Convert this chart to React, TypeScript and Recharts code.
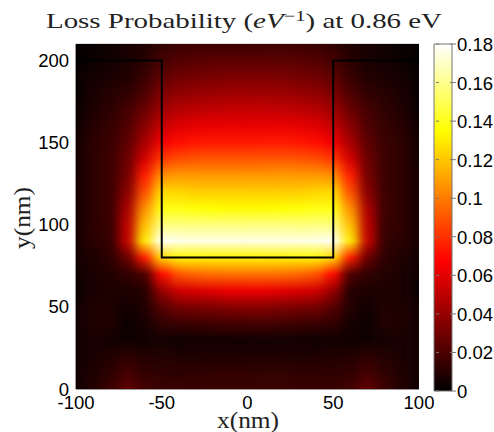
import React from 'react';
import { Bar, BarChart, ReferenceLine, Scatter, ScatterChart, XAxis, YAxis } from 'recharts';

// grid positions in nm, values below are in units of 0.001 eV^-1
const xGrid = [-100, -90, -80, -70, -60, -50, -40, -30, -20, -10, 0, 10, 20, 30, 40, 50, 60, 70, 80, 90, 100];
const yGrid = [210, 200, 190, 180, 170, 160, 150, 140, 130, 120, 110, 100, 90, 80, 70, 60, 50, 40, 30, 20, 10, 0];
const lossRows = [
  [1, 2, 4, 6, 8, 13, 15, 16, 16, 16, 16, 16, 16, 16, 15, 13, 8, 6, 4, 2, 1],
  [1, 3, 5, 7, 11, 18, 22, 23, 24, 24, 24, 24, 24, 23, 22, 18, 11, 7, 5, 3, 1],
  [2, 5, 7, 9, 15, 25, 29, 31, 32, 33, 33, 33, 32, 31, 29, 25, 15, 9, 7, 5, 2],
  [2, 7, 10, 13, 20, 33, 38, 40, 41, 42, 42, 42, 41, 40, 38, 33, 20, 13, 10, 7, 2],
  [3, 8, 12, 18, 28, 42, 48, 50, 51, 52, 52, 52, 51, 50, 48, 42, 28, 18, 12, 8, 3],
  [4, 10, 14, 21, 36, 52, 59, 61, 62, 62, 62, 62, 62, 61, 59, 52, 36, 21, 14, 10, 4],
  [5, 12, 15, 25, 44, 64, 71, 73, 74, 74, 74, 74, 74, 73, 71, 64, 44, 25, 15, 12, 5],
  [5, 12, 16, 28, 56, 82, 88, 90, 90, 90, 90, 90, 90, 90, 88, 82, 56, 28, 16, 12, 5],
  [6, 12, 16, 31, 75, 105, 108, 108, 108, 108, 108, 108, 108, 108, 108, 105, 75, 31, 16, 12, 6],
  [6, 12, 16, 36, 88, 125, 124, 122, 122, 122, 122, 122, 122, 122, 124, 125, 88, 36, 16, 12, 6],
  [6, 12, 16, 45, 105, 138, 138, 136, 135, 134, 134, 134, 135, 136, 138, 138, 105, 45, 16, 12, 6],
  [6, 12, 15, 50, 118, 157, 157, 157, 157, 157, 157, 157, 157, 157, 157, 157, 118, 50, 15, 12, 6],
  [6, 11, 14, 52, 130, 178, 176, 175, 175, 175, 175, 175, 175, 175, 176, 178, 130, 52, 14, 11, 6],
  [5, 8, 12, 28, 75, 125, 133, 133, 132, 132, 132, 132, 132, 133, 133, 125, 75, 28, 12, 8, 5],
  [4, 7, 9, 13, 20, 70, 90, 95, 97, 98, 98, 98, 97, 95, 90, 70, 20, 13, 9, 7, 4],
  [3, 7, 8, 8, 10, 40, 55, 58, 60, 63, 63, 63, 60, 58, 55, 40, 10, 8, 8, 7, 3],
  [5, 8, 8, 5, 9, 23, 31, 33, 34, 36, 36, 36, 34, 33, 31, 23, 9, 5, 8, 8, 5],
  [5, 8, 9, 3, 6, 13, 15, 16, 17, 18, 18, 18, 17, 16, 15, 13, 6, 3, 9, 8, 5],
  [5, 7, 5, 4, 4, 5, 4, 5, 5, 5, 5, 5, 5, 5, 4, 5, 4, 4, 5, 7, 5],
  [5, 7, 9, 12, 9, 9, 8, 8, 8, 8, 8, 8, 8, 8, 8, 9, 9, 12, 9, 7, 5],
  [5, 8, 12, 18, 13, 12, 12, 12, 13, 13, 13, 13, 13, 12, 12, 12, 13, 18, 12, 8, 5],
  [4, 9, 16, 26, 18, 15, 15, 15, 16, 16, 16, 16, 16, 15, 15, 15, 18, 26, 16, 9, 4],
];

// the U shaped outline
const outlineX = [-100, -50, -50, 50, 50, 100];
const outlineY = [200, 200, 80, 80, 200, 200];

const xTicks = [-100, -50, 0, 50, 100];
const yTicks = [0, 50, 100, 150, 200];
const barTicks = [0, 0.02, 0.04, 0.06, 0.08, 0.1, 0.12, 0.14, 0.16, 0.18];
const barMax = [0.18];

const Y_MAX = yGrid[0];
// one strip per x position, it holds the values of that column from top to bottom
const strips = xGrid.map((x, c) => ({ x, y: Y_MAX / 2, col: c, losses: lossRows.map(row => row[c] / 1000) }));
const outline = outlineX.map((x, i) => ({ x, y: outlineY[i] }));
const barData = barMax.map(v => ({ name: 'scale', v }));

const W = 494;
const H = 432;
const LEFT = 76;
const RIGHT = 419;
const TOP = 44;
const BOTTOM = 389;
const cellW = (RIGHT - LEFT) / (xGrid.length - 1);
const plotH = BOTTOM - TOP;

const tickFont = { fontFamily: '"Liberation Sans", Arial, sans-serif', fontSize: 18.5, fill: '#000' };
const serif = '"Liberation Serif", "DejaVu Serif", serif';

// matlab hot colormap on 0..0.18
const hot = (v: number) => {
  const t = Math.min(Math.max(v / 0.18, 0), 1);
  const r = Math.min(t / 0.375, 1);
  const g = Math.min(Math.max((t - 0.375) / 0.375, 0), 1);
  const b = Math.max((t - 0.75) / 0.25, 0);
  return `rgb(${Math.round(r * 255)},${Math.round(g * 255)},${Math.round(b * 255)})`;
};

const HeatStrip = (props: any) => {
  const { cx, cy, payload } = props;
  // edge strips run past the plot so the blur does not fade out, the clip trims them
  const padL = payload.col === 0 ? 20 : 0;
  const padR = payload.col === xGrid.length - 1 ? 20 : 0;
  return (
    <rect
      x={cx - cellW / 2 - padL}
      y={cy - plotH / 2}
      width={cellW + padL + padR + 0.5}
      height={plotH}
      fill={`url(#strip${payload.col})`}
    />
  );
};

const BarTick = (props: any) => {
  const { x, y, payload } = props;
  return (
    <g>
      <line x1={x - 24} x2={x - 21} y1={y} y2={y} stroke="#777" />
      <line x1={x - 10} x2={x - 4} y1={y} y2={y} stroke="#777" />
      <text x={x - 3} y={y + 7} {...tickFont}>{payload.value}</text>
    </g>
  );
};

export default function App() {
  return (
    <div style={{ position: 'absolute', left: 0, top: 0, width: W, height: H, background: '#fff', overflow: 'hidden' }}>
      <style>{`.heat { filter: url(#heatBlur); clip-path: url(#plotClip); }`}</style>
      <div style={{ position: 'absolute', left: 0, top: 0 }}>
        <ScatterChart width={W} height={H} margin={{ top: TOP, right: W - RIGHT, bottom: 0, left: 0 }}>
          <defs>
            <filter id="heatBlur" filterUnits="userSpaceOnUse" x={0} y={0} width={W} height={H} colorInterpolationFilters="sRGB">
              <feGaussianBlur stdDeviation="5.5 0" />
            </filter>
            <clipPath id="plotClip">
              <rect x={LEFT} y={TOP} width={RIGHT - LEFT} height={plotH} />
            </clipPath>
            {strips.map(s => (
              <linearGradient key={s.col} id={`strip${s.col}`} x1="0" y1="0" x2="0" y2="1">
                {s.losses.map((v, r) => (
                  <stop key={r} offset={(Y_MAX - yGrid[r]) / Y_MAX} stopColor={hot(v)} />
                ))}
              </linearGradient>
            ))}
          </defs>
          <XAxis
            type="number"
            dataKey="x"
            domain={[-100, 100]}
            ticks={xTicks}
            height={H - BOTTOM}
            interval={0}
            tickLine={false}
            axisLine={{ stroke: '#333' }}
            tick={tickFont}
            tickMargin={1}
          />
          <YAxis
            type="number"
            dataKey="y"
            domain={[0, Y_MAX]}
            ticks={yTicks}
            width={LEFT}
            interval={0}
            tickLine={false}
            axisLine={{ stroke: '#333' }}
            tick={tickFont}
            tickMargin={1}
          />
          <ReferenceLine y={Y_MAX} stroke="#bbb" />
          <Scatter className="heat" data={strips} shape={HeatStrip} isAnimationActive={false} />
          <Scatter data={outline} line={{ stroke: '#000', strokeWidth: 2 }} shape={() => <g />} isAnimationActive={false} />
          <text x={244} y={28} textAnchor="middle" fontFamily={serif} fontSize={21} fill="#222" textLength={396} lengthAdjust="spacingAndGlyphs">
            Loss Probability (<tspan fontStyle="italic">eV</tspan>
            <tspan dy={-7} fontSize={15}>−1</tspan>
            <tspan dy={7}>) at 0.86 eV</tspan>
          </text>
          <text x={248} y={428} textAnchor="middle" fontFamily={serif} fontSize={23} fill="#222" textLength={62} lengthAdjust="spacingAndGlyphs">x(nm)</text>
          <text x={30} y={218} textAnchor="middle" fontFamily={serif} fontSize={23} fill="#222" textLength={62} lengthAdjust="spacingAndGlyphs" transform="rotate(-90 30 218)">y(nm)</text>
        </ScatterChart>
      </div>
      <div style={{ position: 'absolute', left: 0, top: 0 }}>
        <BarChart width={W} height={H} data={barData} barCategoryGap={0} margin={{ top: TOP, right: 0, bottom: H - 391, left: 434 }}>
          <defs>
            <linearGradient id="hotBar" x1="0" y1="1" x2="0" y2="0">
              <stop offset="0" stopColor="#000" />
              <stop offset="0.375" stopColor="#f00" />
              <stop offset="0.75" stopColor="#ff0" />
              <stop offset="1" stopColor="#fff" />
            </linearGradient>
          </defs>
          <XAxis dataKey="name" hide />
          <YAxis
            orientation="right"
            type="number"
            domain={[0, 0.18]}
            ticks={barTicks}
            width={42}
            interval={0}
            tickLine={false}
            axisLine={false}
            tick={BarTick}
          />
          <Bar dataKey="v" fill="url(#hotBar)" stroke="#777" isAnimationActive={false} />
        </BarChart>
      </div>
    </div>
  );
}
